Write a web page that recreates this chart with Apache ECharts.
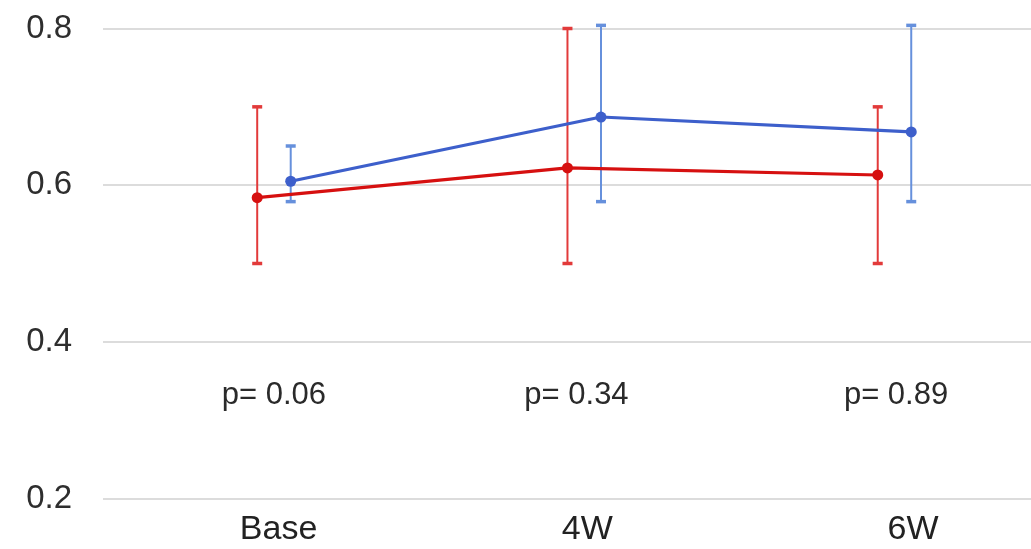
<!DOCTYPE html>
<html>
<head>
<meta charset="utf-8">
<script src="https://cdn.jsdelivr.net/npm/echarts@6/dist/echarts.min.js"></script>
<style>
  html, body { margin: 0; padding: 0; background: #fff; }
  #chart { width: 1031px; height: 549px; }
</style>
</head>
<body>
<div id="chart"></div>
<script>
// Time points
const categories = ['Base', '4W', '6W'];

// Group means with lower / upper error limits
const redMean  = [0.584, 0.622, 0.613];
const redLow   = [0.500, 0.500, 0.500];
const redHigh  = [0.700, 0.800, 0.700];

const blueMean = [0.605, 0.687, 0.668];
const blueLow  = [0.579, 0.579, 0.579];
const blueHigh = [0.650, 0.804, 0.804];

// Between-group p-values per time point
const pValues = ['0.06', '0.34', '0.89'];

// Y-axis ticks
const yTicks = [0.2, 0.4, 0.6, 0.8];

// Layout helpers (in category units / axis units)
const GROUP_SHIFT = 0.054;        // red drawn left of the time point, blue right
const LABEL_NUDGE = [0.015, 0.01, 0.06];
const P_NUDGE = [0, -0.025, 0.005];
const P_ROW_Y = 0.331;            // vertical placement of the p-value row

const RED = '#d61010';
const RED_BAR = '#e23a3a';
const BLUE = '#3d5fcb';
const BLUE_BAR = '#6690dc';
const FONT = 'Liberation Sans, Arial, Helvetica, sans-serif';

function points(means, shift) {
  return means.map((v, i) => [i + shift, v]);
}
function bars(lows, highs, shift) {
  return lows.map((lo, i) => [i + shift, lo, highs[i]]);
}
function errorBarRenderer(color) {
  return function (params, api) {
    const x = api.value(0);
    const lo = api.coord([x, api.value(1)]);
    const hi = api.coord([x, api.value(2)]);
    const hw = 5;
    return {
      type: 'group',
      children: [
        { type: 'line', shape: { x1: hi[0], y1: hi[1], x2: lo[0], y2: lo[1] },
          style: { stroke: color, lineWidth: 2 } },
        { type: 'line', shape: { x1: hi[0] - hw, y1: hi[1], x2: hi[0] + hw, y2: hi[1] },
          style: { stroke: color, lineWidth: 3.5 } },
        { type: 'line', shape: { x1: lo[0] - hw, y1: lo[1], x2: lo[0] + hw, y2: lo[1] },
          style: { stroke: color, lineWidth: 3.5 } }
      ]
    };
  };
}

const labelPositions = categories.map((c, i) => i + LABEL_NUDGE[i]);

const chart = echarts.init(document.getElementById('chart'), null, { renderer: 'canvas' });

chart.setOption({
  animation: false,
  backgroundColor: '#ffffff',
  grid: { left: 103, right: 0, top: 28.5, bottom: 50.5, containLabel: false },
  xAxis: {
    type: 'value',
    min: -0.551,
    max: 2.44,
    axisLine: { show: false },
    axisTick: { show: false },
    splitLine: { show: false },
    axisLabel: {
      customValues: labelPositions,
      formatter: v => categories[Math.round(v)] || '',
      color: '#222',
      fontFamily: FONT,
      fontSize: 34,
      margin: 14
    }
  },
  yAxis: {
    type: 'value',
    min: yTicks[0],
    max: yTicks[yTicks.length - 1],
    interval: 0.2,
    axisLine: { show: false },
    axisTick: { show: false },
    splitLine: { lineStyle: { color: '#dcdcdc', width: 2 } },
    axisLabel: {
      formatter: v => v.toFixed(1),
      color: '#2e2e2e',
      fontFamily: FONT,
      fontSize: 33,
      margin: 31
    }
  },
  series: [
    {
      type: 'custom',
      z: 1,
      renderItem: errorBarRenderer(RED_BAR),
      encode: { x: 0, y: [1, 2] },
      data: bars(redLow, redHigh, -GROUP_SHIFT)
    },
    {
      type: 'custom',
      z: 1,
      renderItem: errorBarRenderer(BLUE_BAR),
      encode: { x: 0, y: [1, 2] },
      data: bars(blueLow, blueHigh, GROUP_SHIFT)
    },
    {
      type: 'line',
      z: 3,
      data: points(redMean, -GROUP_SHIFT),
      symbol: 'circle',
      symbolSize: 11,
      lineStyle: { color: RED, width: 3.2 },
      itemStyle: { color: RED }
    },
    {
      type: 'line',
      z: 3,
      data: points(blueMean, GROUP_SHIFT),
      symbol: 'circle',
      symbolSize: 11,
      lineStyle: { color: BLUE, width: 3.2 },
      itemStyle: { color: BLUE }
    },
    {
      type: 'scatter',
      z: 2,
      symbolSize: 0,
      silent: true,
      itemStyle: { opacity: 1 },
      data: pValues.map((p, i) => ({ value: [i + P_NUDGE[i], P_ROW_Y], name: p })),
      label: {
        show: true,
        position: 'inside',
        formatter: d => 'p= ' + d.name,
        color: '#2a2a2a',
        opacity: 1,
        fontFamily: FONT,
        fontSize: 31
      }
    }
  ]
});
</script>
</body>
</html>
